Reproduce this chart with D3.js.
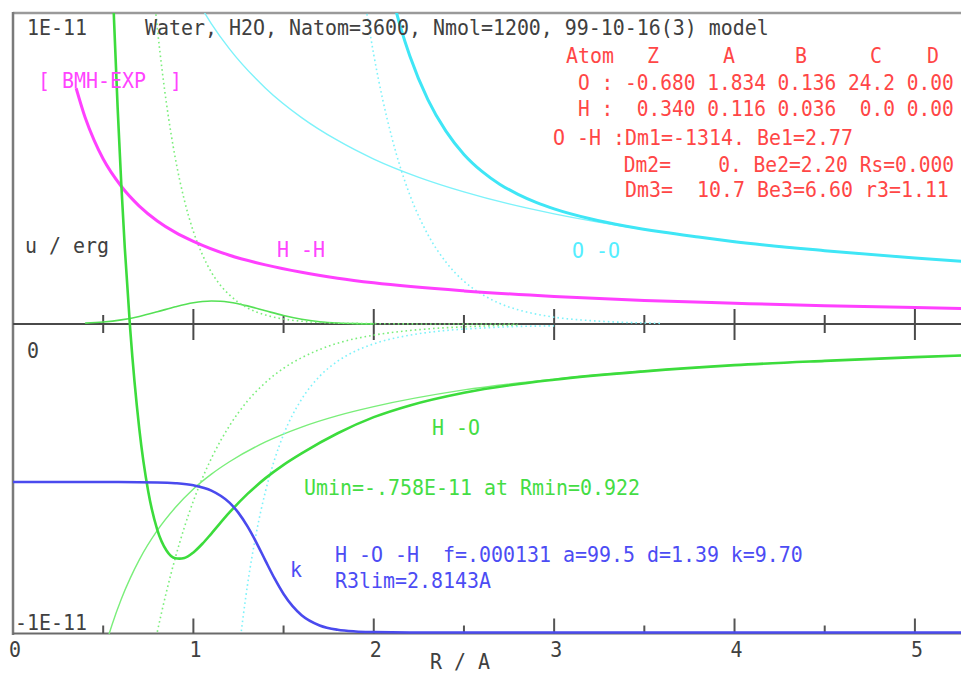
<!DOCTYPE html>
<html>
<head>
<meta charset="utf-8">
<script src="https://cdn.jsdelivr.net/npm/d3@7"></script>
<style>
  html, body { margin: 0; padding: 0; background: #fff; }
  svg { display: block; }
  text { font-family: "DejaVu Sans Mono", monospace; font-size: 22px; white-space: pre; }
</style>
</head>
<body>
<svg id="chart" width="961" height="675"></svg>
<script>
// Pair potentials of the water model; r in Angstrom, u in units of 1E-11 erg.

// H-H (BMH-EXP, essentially Coulomb)
const rHH = [0.35,0.4,0.45,0.5,0.6,0.7,0.8,0.9,1.0,1.2,1.4,1.6,1.8,2.0,2.5,3.0,3.5,4.0,4.5,5.0,5.3];
const uHH = [0.762,0.667,0.593,0.533,0.445,0.381,0.333,0.296,0.267,0.222,0.191,0.167,0.148,0.133,0.107,0.089,0.076,0.067,0.059,0.053,0.050];

// O-O components
const rOOcoul = [1.0,1.1,1.2,1.4,1.6,1.8,2.0,2.25,2.5,2.75,3.0,3.5,4.0,4.5,5.0,5.3];
const uOOcoul = [1.067,0.970,0.889,0.762,0.667,0.593,0.533,0.474,0.427,0.388,0.356,0.305,0.267,0.237,0.213,0.201];
const rOOrep = [1.95,2.0,2.05,2.1,2.15,2.2,2.3,2.4,2.5,2.6,2.7,2.8,2.9,3.0,3.2,3.4,3.6];
const uOOrep = [1.046,0.870,0.724,0.603,0.501,0.417,0.289,0.200,0.138,0.096,0.066,0.046,0.032,0.022,0.011,0.005,0.002];
const rOOdisp = [1.25,1.3,1.35,1.4,1.45,1.5,1.6,1.7,1.8,1.9,2.0,2.2,2.4,2.6,2.8,3.0];
const uOOdisp = [-1.067,-0.843,-0.672,-0.540,-0.438,-0.357,-0.243,-0.169,-0.120,-0.087,-0.064,-0.036,-0.021,-0.013,-0.008,-0.006];
// O-O total
const rOO = [2.1,2.15,2.2,2.3,2.4,2.5,2.6,2.7,2.8,2.9,3.0,3.2,3.4,3.6,3.8,4.0,4.5,5.0,5.3];
const uOO = [1.064,0.956,0.866,0.725,0.623,0.548,0.493,0.451,0.419,0.393,0.372,0.340,0.316,0.297,0.281,0.266,0.237,0.213,0.201];

// H-O components
const rHOcoul = [0.52,0.55,0.6,0.65,0.7,0.8,0.9,1.0,1.1,1.2,1.4,1.6,1.8,2.0,2.5,3.0,3.5,4.0,4.5,5.0,5.3];
const uHOcoul = [-1.026,-0.970,-0.889,-0.821,-0.762,-0.667,-0.593,-0.533,-0.485,-0.445,-0.381,-0.333,-0.296,-0.267,-0.213,-0.178,-0.152,-0.133,-0.119,-0.107,-0.101];
const rHOrep = [0.78,0.8,0.825,0.85,0.875,0.9,0.95,1.0,1.05,1.1,1.15,1.2,1.3,1.4,1.5,1.6,1.7,1.8,1.9,2.2,2.5,2.8];
const uHOrep = [1.075,0.957,0.828,0.716,0.619,0.535,0.400,0.299,0.224,0.167,0.125,0.094,0.052,0.029,0.016,0.009,0.005,0.003,0.002,0.0003,0,0];
const rHOdm3 = [0.4,0.5,0.6,0.7,0.8,0.9,1.0,1.05,1.1,1.15,1.2,1.3,1.4,1.5,1.6,1.7,1.8,1.9,2.0];
const uHOdm3 = [0.0027,0.0064,0.0134,0.0245,0.0394,0.0556,0.0686,0.0726,0.0743,0.0736,0.0705,0.0586,0.0427,0.0273,0.0152,0.0075,0.0032,0.0012,0.0004];
const rHOdm1 = [0.79,0.8,0.825,0.85,0.875,0.9,0.95,1.0,1.05,1.1,1.2,1.3,1.4,1.5,1.6,1.8,2.0,2.2,2.5,2.8];
const uHOdm1 = [-1.024,-0.995,-0.929,-0.867,-0.809,-0.755,-0.657,-0.572,-0.498,-0.434,-0.329,-0.249,-0.189,-0.143,-0.109,-0.062,-0.036,-0.021,-0.009,-0.004];
// H-O total (minimum -0.758 at r = 0.922)
const rHO = [0.55,0.56,0.58,0.6,0.62,0.65,0.7,0.75,0.8,0.85,0.9,0.922,0.95,1.0,1.05,1.1,1.2,1.3,1.4,1.5,1.6,1.8,2.0,2.2,2.5,3.0,3.5,4.0,4.5,5.0,5.3];
const uHO = [1.146,0.984,0.700,0.455,0.244,-0.019,-0.338,-0.542,-0.665,-0.731,-0.757,-0.758,-0.756,-0.738,-0.710,-0.677,-0.609,-0.549,-0.498,-0.455,-0.418,-0.353,-0.301,-0.263,-0.222,-0.180,-0.153,-0.133,-0.119,-0.107,-0.101];

// three-body switching function k(r)
const rK = [0,0.5,0.8,0.9,1.0,1.1,1.2,1.25,1.3,1.35,1.4,1.45,1.5,1.55,1.6,1.7,1.8,1.9,2.0,2.2,2.5,3.0,4.0,5.3];
const kK = [1,1,0.997,0.992,0.978,0.943,0.863,0.795,0.705,0.596,0.476,0.359,0.256,0.175,0.115,0.047,0.018,0.007,0.003,0,0,0,0,0];

// axis ticks and labels
const xMajorTicks = [1,2,3,4,5];
const xMinorTicks = [0.5,1.5,2.5,3.5,4.5];
const xLabelValues = [0,1,2,3,4,5];
const xLabels = ["0","1","2","3","4","5"];
const yLabels = ["1E-11","0","-1E-11"];

// parameter table
const paramHeader = ["Atom","Z","A","B","C","D"];
const paramRows = [
  "O : -0.680 1.834 0.136 24.2 0.00",
  "H :  0.340 0.116 0.036  0.0 0.00"
];
const pairRows = [
  "O -H :Dm1=-1314. Be1=2.77",
  "      Dm2=    0. Be2=2.20 Rs=0.000",
  "      Dm3=  10.7 Be3=6.60 r3=1.11"
];

const W = 961, H = 675;
const svg = d3.select("#chart");

const x = d3.scaleLinear().domain([0, 5.25]).range([13, 960]);
const y = d3.scaleLinear().domain([-1, 1]).range([633.5, 14.5]);
const kScale = d3.scaleLinear().domain([0, 1]).range([632.5, 482]);

// monospace text squeezed horizontally to a fixed character cell
const CHAR = 12, NATURAL = 0.60205 * 22;
function mono(g, px, py, str, color, anchor, advance) {
  const sx = (advance || CHAR) / NATURAL;
  return g.append("text")
    .attr("transform", `translate(${px},${py}) scale(${sx},1)`)
    .attr("xml:space", "preserve")
    .attr("text-anchor", anchor || "start")
    .attr("fill", color)
    .text(str);
}

svg.append("defs").append("clipPath").attr("id", "plotclip")
  .append("rect").attr("x", 13).attr("y", 13).attr("width", W - 13).attr("height", 621);

// frame and axes
const axes = svg.append("g");
axes.append("line").attr("x1", 13).attr("x2", W).attr("y1", 13).attr("y2", 13)
  .attr("stroke", "#9a9a9a").attr("stroke-width", 2.5);
axes.append("line").attr("x1", 13).attr("x2", 13).attr("y1", 12).attr("y2", 635)
  .attr("stroke", "#7a7a7a").attr("stroke-width", 2.5);
axes.append("line").attr("x1", 13).attr("x2", W).attr("y1", y(0)).attr("y2", y(0))
  .attr("stroke", "#4a4a4a").attr("stroke-width", 2);
axes.append("line").attr("x1", 13).attr("x2", W).attr("y1", y(-1)).attr("y2", y(-1))
  .attr("stroke", "#6a6a6a").attr("stroke-width", 2);

axes.selectAll(".zmaj").data(xMajorTicks).join("line")
  .attr("x1", d => x(d)).attr("x2", d => x(d))
  .attr("y1", y(0) - 15).attr("y2", y(0) + 16)
  .attr("stroke", "#4a4a4a").attr("stroke-width", 2);
axes.selectAll(".zmin").data(xMinorTicks).join("line")
  .attr("x1", d => x(d)).attr("x2", d => x(d))
  .attr("y1", y(0) - 9).attr("y2", y(0) + 9)
  .attr("stroke", "#4a4a4a").attr("stroke-width", 2);
axes.selectAll(".bmaj").data(xMajorTicks).join("line")
  .attr("x1", d => x(d)).attr("x2", d => x(d))
  .attr("y1", y(-1) - 15).attr("y2", y(-1))
  .attr("stroke", "#555").attr("stroke-width", 2);
axes.selectAll(".bmin").data(xMinorTicks).join("line")
  .attr("x1", d => x(d)).attr("x2", d => x(d))
  .attr("y1", y(-1) - 8).attr("y2", y(-1))
  .attr("stroke", "#555").attr("stroke-width", 2);

// curves
const line = d3.line().x(d => x(d[0])).y(d => y(d[1])).curve(d3.curveMonotoneX);
const kLine = d3.line().x(d => x(d[0])).y(d => kScale(d[1])).curve(d3.curveMonotoneX);
const plot = svg.append("g").attr("clip-path", "url(#plotclip)");

function curve(rs, us, color, width, dash) {
  const p = plot.append("path")
    .datum(d3.zip(rs, us))
    .attr("d", line)
    .attr("fill", "none")
    .attr("stroke", color)
    .attr("stroke-width", width)
    .attr("stroke-linejoin", "round");
  if (dash) p.attr("stroke-dasharray", dash);
  return p;
}

const thinGreen = "#7aee7a", thinCyan = "#7df2fa";
curve(rHOdm3, uHOdm3, "#55e055", 1.6);
curve(rHOrep, uHOrep, thinGreen, 1.6, "1.6 3");
curve(rHOdm1, uHOdm1, thinGreen, 1.6, "1.6 3");
curve(rHOcoul, uHOcoul, thinGreen, 1.4);
curve(rOOrep, uOOrep, thinCyan, 1.6, "1.6 3");
curve(rOOdisp, uOOdisp, thinCyan, 1.6, "1.6 3");
curve(rOOcoul, uOOcoul, thinCyan, 1.4);

curve(rHH, uHH, "#ff40ff", 3);
curve(rOO, uOO, "#3fe6f6", 3);
curve(rHO, uHO, "#3cdc3c", 2.6);

plot.append("path")
  .datum(d3.zip(rK, kK))
  .attr("d", kLine)
  .attr("fill", "none")
  .attr("stroke", "#4a4aee")
  .attr("stroke-width", 2.6);

// text
const txt = svg.append("g");
const grey = "#404040", red = "#ff4646", magenta = "#ff44ff", cyan = "#55eeff",
      green = "#44dd44", blue = "#4c4cf4";

mono(txt, 27, 35, yLabels[0], grey);
mono(txt, 27, 358, yLabels[1], grey);
mono(txt, 15, 630, yLabels[2], grey);
mono(txt, 145, 35, "Water, H2O, Natom=3600, Nmol=1200, 99-10-16(3) model", grey);
mono(txt, 25, 253, "u / erg", grey);

xLabelValues.forEach((v, i) => mono(txt, x(v) + 2, 657, xLabels[i], grey, "middle"));
mono(txt, 430, 669, "R / A", grey);

mono(txt, 38, 88, "[ BMH-EXP  ]", magenta);
mono(txt, 277, 257, "H -H", magenta);
mono(txt, 572, 258, "O -O", cyan);

const headerX = [566, 647, 723, 795, 870, 927];
paramHeader.forEach((s, i) => mono(txt, headerX[i], 63, s, red));
mono(txt, 578, 90, paramRows[0], red, "start", 11.75);
mono(txt, 578, 116, paramRows[1], red, "start", 11.75);
mono(txt, 553, 145, pairRows[0], red);
mono(txt, 553, 172, pairRows[1], red, "start", 11.8);
mono(txt, 553, 197, pairRows[2], red);

mono(txt, 432, 435, "H -O", green);
mono(txt, 304, 495, "Umin=-.758E-11 at Rmin=0.922", green);

mono(txt, 290, 577, "k", blue);
mono(txt, 335, 562, "H -O -H  f=.000131 a=99.5 d=1.39 k=9.70", blue);
mono(txt, 335, 588, "R3lim=2.8143A", blue);
</script>
</body>
</html>
